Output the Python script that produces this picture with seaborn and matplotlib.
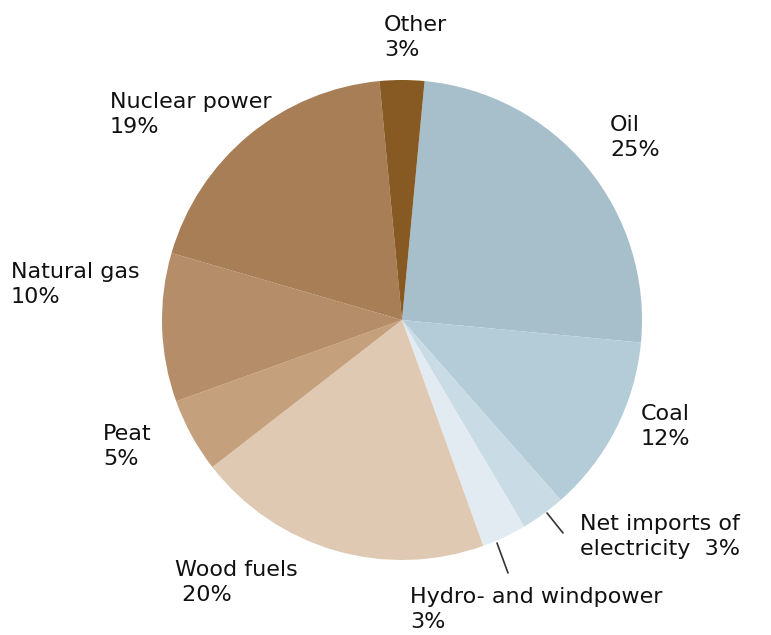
import matplotlib
matplotlib.use("Agg")
import matplotlib.pyplot as plt
import seaborn as sns

sns.set_theme(style="white")
plt.rcParams["font.family"] = ["DejaVu Sans"]

# Energy sources, clockwise from the top
sources = ["Oil", "Coal", "Net imports of\nelectricity", "Hydro- and windpower",
           "Wood fuels", "Peat", "Natural gas", "Nuclear power", "Other"]
shares = [25, 12, 3, 3, 20, 5, 10, 19, 3]
colors = ["#a7bfcb", "#b4cbd8", "#c9dbe5", "#e2ebf1", "#dfc9b3",
          "#c4a07c", "#b58d68", "#a87e57", "#865a22"]

W, H = 771, 635
fig = plt.figure(figsize=(W / 100, H / 100), dpi=100)
ax = fig.add_axes([0, 0, 1, 1])

cx, cy, r = 402, H - 320, 240
ax.pie(shares, colors=colors, startangle=84.6, counterclock=False,
       radius=r, center=(cx, cy), frame=False,
       wedgeprops=dict(linewidth=0))
ax.set_xlim(0, W)
ax.set_ylim(0, H)
ax.set_aspect("equal")
ax.axis("off")

fs = 16
lbl = dict(fontsize=fs, color="#111111", va="top", ha="left", linespacing=1.3)


def y(p):
    return H - p


def pct(v):
    return f"{v}%"


ax.text(384, y(15), f"Other\n{pct(shares[8])}", **lbl)
ax.text(610, y(115), f"Oil\n{pct(shares[0])}", **lbl)
ax.text(641, y(404), f"Coal\n{pct(shares[1])}", **lbl)
ax.text(580, y(514), f"Net imports of\nelectricity  {pct(shares[2])}", **lbl)
ax.text(410, y(587), f"Hydro- and windpower\n{pct(shares[3])}", **lbl)
ax.text(175, y(560), f"Wood fuels\n {pct(shares[4])}", **lbl)
ax.text(103, y(424), f"Peat\n{pct(shares[5])}", **lbl)
ax.text(11, y(262), f"Natural gas\n{pct(shares[6])}", **lbl)
ax.text(110, y(92), f"Nuclear power\n{pct(shares[7])}", **lbl)

# leader lines for the two thin slices
ax.plot([547, 563], [y(513), y(533)], color="#333333", lw=1.2)
ax.plot([497, 508], [y(543), y(573)], color="#333333", lw=1.2)

fig.savefig("out.png", dpi=100, facecolor="white")
